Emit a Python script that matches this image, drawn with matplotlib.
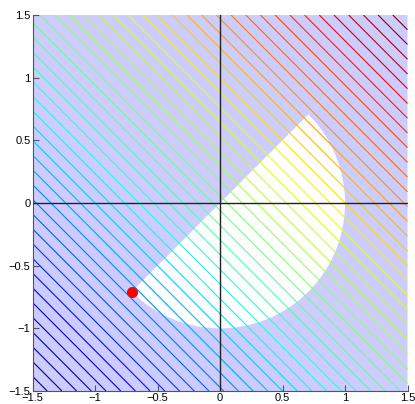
import numpy as np
import matplotlib
matplotlib.use('Agg')
import matplotlib.pyplot as plt
from matplotlib.patches import Polygon

# objective f(x,y) = x + y, feasible set: x^2+y^2 <= 1 and y <= x
lims = [-1.5, 1.5]
ticks = [-1.5, -1, -0.5, 0, 0.5, 1, 1.5]
tick_labels = ['\u22121.5', '\u22121', '\u22120.5', '0', '0.5', '1', '1.5']
radius = 1.0
arc_start_deg = 45
arc_end_deg = -135
n_levels = 50
xmin_pt = [-0.7071, -0.7071]

plt.rcParams['font.family'] = ['Liberation Sans', 'DejaVu Sans']

fig = plt.figure(figsize=(4.15, 4.04), dpi=100)
ax = fig.add_axes([32.5 / 415, 13 / 404, 375 / 415, 376 / 404])

# infeasible part shaded
shade = dict(facecolor='#ccccff', edgecolor='none', zorder=1)
upper = Polygon([(lims[0], lims[0]), (lims[1], lims[1]), (lims[0], lims[1])], **shade)
ax.add_patch(upper)
t = np.radians(np.linspace(arc_start_deg, arc_end_deg, 200))
arc = np.column_stack([radius * np.cos(t), radius * np.sin(t)])
lower = np.vstack([[(lims[0], lims[0]), (lims[1], lims[0]), (lims[1], lims[1])], arc])
ax.add_patch(Polygon(lower, **shade))

x = np.linspace(lims[0], lims[1], 301)
X, Y = np.meshgrid(x, x)
Z = X + Y
levels = np.linspace(Z.min(), Z.max(), n_levels + 2)[1:-1]
ax.contour(X, Y, Z, levels=levels, cmap='jet', linewidths=0.8, zorder=2)

ax.axhline(0, color='#222222', lw=1.0, zorder=3)
ax.axvline(0, color='#222222', lw=1.0, zorder=3)
ax.plot(xmin_pt[0], xmin_pt[1], 'o', color='red', ms=7, zorder=4)

ax.set_xlim(lims)
ax.set_ylim(lims)
ax.set_xticks(ticks)
ax.set_yticks(ticks)
ax.set_xticklabels(tick_labels)
ax.set_yticklabels(tick_labels)
ax.tick_params(direction='in', length=4, labelsize=8, color='#555555', pad=1.5)
for s in ['top', 'right']:
    ax.spines[s].set_visible(False)
for s in ['left', 'bottom']:
    ax.spines[s].set_color('#555555')

fig.savefig('out.png', dpi=100)
